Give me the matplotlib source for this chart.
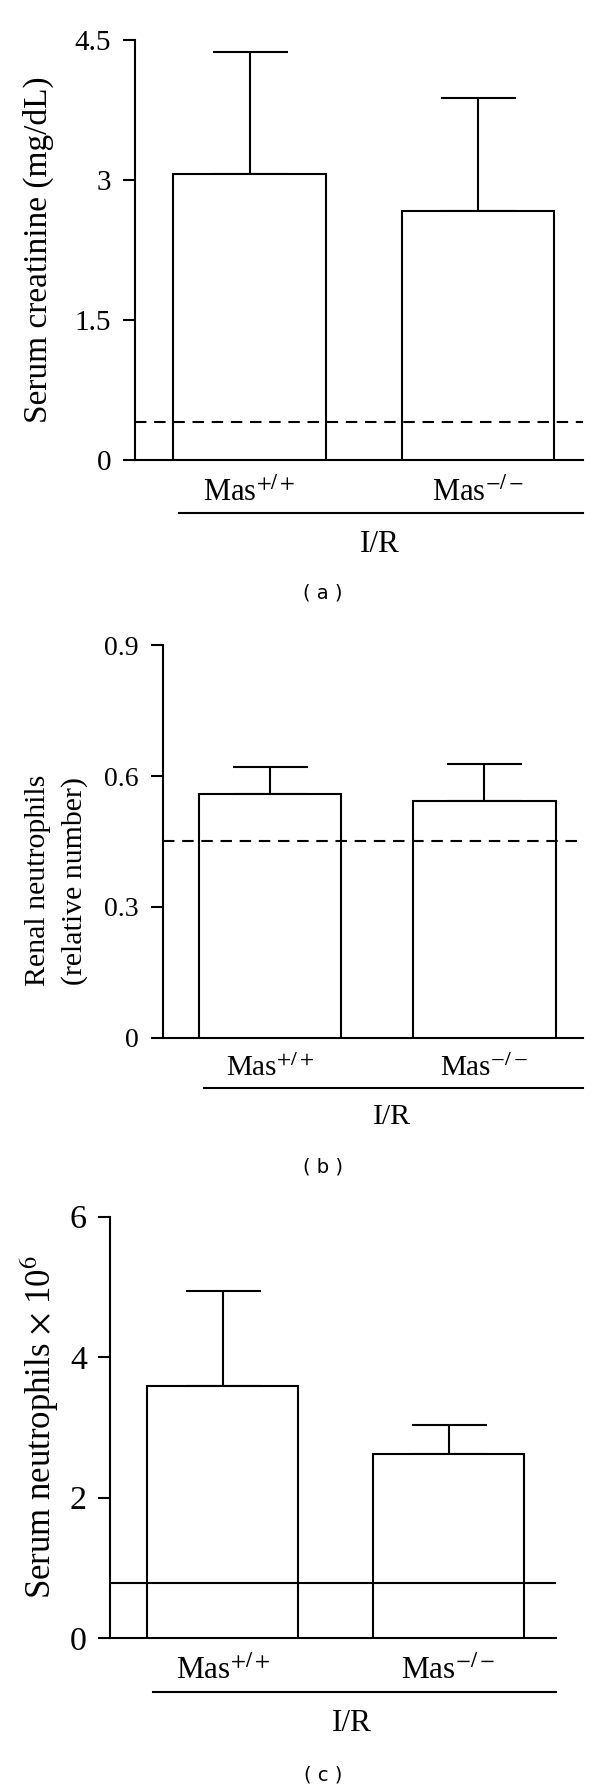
import numpy as np
import matplotlib
matplotlib.use('Agg')
import matplotlib.pyplot as plt

plt.rcParams['font.family'] = 'Liberation Serif'
plt.rcParams['mathtext.fontset'] = 'stix'

# data
groups = ['Mas$^{+/+}$', 'Mas$^{-/-}$']

creat_mean = [3.06, 2.66]
creat_err = [1.31, 1.21]
creat_ref = 0.40
creat_ticks = [0, 1.5, 3, 4.5]
creat_ticklabels = ['0', '1.5', '3', '4.5']

renal_mean = [0.560, 0.543]
renal_err = [0.062, 0.084]
renal_ref = 0.452
renal_ticks = [0, 0.3, 0.6, 0.9]
renal_ticklabels = ['0', '0.3', '0.6', '0.9']

serum_mean = [3.59, 2.62]
serum_err = [1.35, 0.41]
serum_ref = 0.78
serum_ticks = [0, 2, 4, 6]
serum_ticklabels = ['0', '2', '4', '6']

W, H = 600, 1787
fig = plt.figure(figsize=(W / 100, H / 100), dpi=100)


def rect(x0, x1, ytop, ybot):
    return [x0 / W, 1 - ybot / H, (x1 - x0) / W, (ybot - ytop) / H]


def panel(r, means, errs, ref, ref_style, ticks, ticklabels, ylabels,
          ylab_size, tick_size, grp_size, ir_size, tag, tag_y,
          xlim_right=1.46, tick_pad=9):
    ax = fig.add_axes(r)
    x = np.arange(len(groups))
    ax.bar(x, means, width=0.667, color='white', edgecolor='black',
           linewidth=1.5, zorder=3)
    ax.errorbar(x, means, yerr=[np.zeros(len(errs)), errs], fmt='none',
                ecolor='black', elinewidth=1.5, capsize=27, capthick=1.5,
                zorder=2)
    ax.axhline(ref, color='black', linewidth=1.5, linestyle=ref_style,
               zorder=4, **({'dashes': (5.5, 3.7)} if ref_style == '--' else {}))
    ax.set_xlim(-0.5, xlim_right)
    ax.set_ylim(0, ticks[-1])
    ax.set_yticks(ticks, ticklabels)
    ax.set_xticks([])
    ax.tick_params(axis='y', direction='out', length=8.5, width=1.5,
                   labelsize=tick_size, pad=tick_pad)
    for s in ['top', 'right']:
        ax.spines[s].set_visible(False)
    for s in ['left', 'bottom']:
        ax.spines[s].set_linewidth(1.5)
    tr = ax.get_xaxis_transform()
    for xi, g in zip(x, groups):
        ax.text(xi, -0.097, g, transform=tr, ha='center', va='baseline',
                fontsize=grp_size)
    # y label line(s): (text, x, y) in axes fraction
    for txt, lx, ly in ylabels:
        ax.text(lx, ly, txt, transform=ax.transAxes, rotation=90,
                ha='center', va='center', fontsize=ylab_size)
    # I/R bracket line
    ax.plot([-0.31, xlim_right], [-0.128, -0.128], color='black',
            linewidth=1.5, transform=tr, clip_on=False)
    ax.text(0.57, -0.22, 'I/R', transform=tr, ha='center', va='baseline',
            fontsize=ir_size)
    fig.text(323 / W, 1 - tag_y / H, '( %s )' % tag, ha='center', va='center',
             fontsize=14, family='DejaVu Sans')
    return ax


panel(rect(135.4, 582.7, 39.6, 459.6), creat_mean, creat_err, creat_ref, '--',
      creat_ticks, creat_ticklabels,
      [('Serum creatinine (mg/dL)', -0.2166, 0.5)],
      24, 21, 22, 22.5, 'a', 593)

panel(rect(163, 582.7, 645.4, 1037.7), renal_mean, renal_err, renal_ref, '--',
      renal_ticks, renal_ticklabels,
      [('Renal neutrophils', -0.298, 0.40),
       ('(relative number)', -0.21, 0.40)],
      21.5, 20, 21, 21.5, 'b', 1167)

panel(rect(109.9, 556, 1216.7, 1638), serum_mean, serum_err, serum_ref, '-',
      serum_ticks, serum_ticklabels,
      [(r'Serum neutrophils $\times$ 10$^6$', -0.157, 0.5)],
      25, 24.5, 22.5, 22.5, 'c', 1775, xlim_right=1.476, tick_pad=8)

fig.savefig('out.png', dpi=100)
